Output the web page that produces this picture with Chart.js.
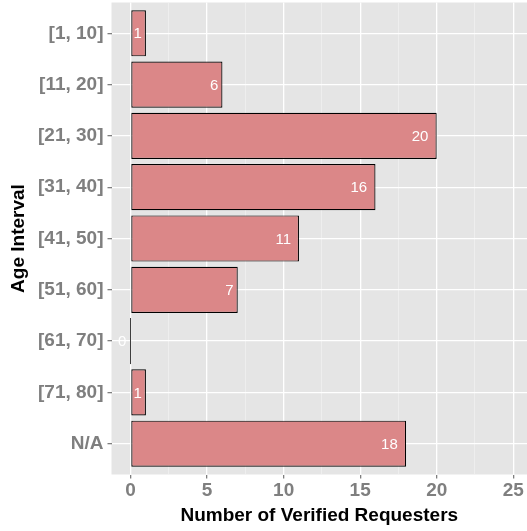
<!DOCTYPE html>
<html>
<head>
<meta charset="utf-8">
<script src="https://cdn.jsdelivr.net/npm/chart.js@4"></script>
<style>
  body { margin: 0; background: #fff; }
  #wrap { width: 527px; height: 531px; }
</style>
</head>
<body>
<div id="wrap"><canvas id="chart" width="527" height="531"></canvas></div>
<script>
const ageGroups = ["[1, 10]", "[11, 20]", "[21, 30]", "[31, 40]", "[41, 50]", "[51, 60]", "[61, 70]", "[71, 80]", "N/A"];
const requesters = [1, 6, 20, 16, 11, 7, 0, 1, 18];
const xTicks = [0, 2.5, 5, 7.5, 10, 12.5, 15, 17.5, 20, 22.5, 25];

const font = "'Liberation Sans', Arial, sans-serif";

// grey panel behind the plot, ggplot style
const panelBg = {
  id: "panelBg",
  beforeDraw(chart) {
    const { ctx, chartArea: a } = chart;
    ctx.save();
    ctx.fillStyle = "#E5E5E5";
    ctx.fillRect(a.left, a.top, a.right - a.left, a.bottom - a.top);
    ctx.restore();
  },
};

// white value labels inside the end of each bar
const barLabels = {
  id: "barLabels",
  afterDatasetsDraw(chart) {
    const { ctx } = chart;
    const meta = chart.getDatasetMeta(0);
    const xs = chart.scales.x;
    ctx.save();
    ctx.font = "15px " + font;
    ctx.fillStyle = "#fff";
    ctx.textAlign = "center";
    ctx.textBaseline = "middle";
    meta.data.forEach((bar, i) => {
      const txt = String(requesters[i]);
      const w = ctx.measureText(txt).width;
      const end = xs.getPixelForValue(requesters[i]);
      ctx.fillText(txt, end - w, bar.y + 1);
    });
    ctx.restore();
  },
};

new Chart(document.getElementById("chart"), {
  type: "bar",
  data: {
    datasets: [
      {
        data: requesters.map((v, i) => ({ x: v, y: i })),
        backgroundColor: "#DB8788",
        borderColor: "#000",
        borderWidth: 1.2,
        borderSkipped: false,
        barPercentage: 0.9,
        categoryPercentage: 1,
        minBarLength: 1,
      },
    ],
  },
  options: {
    indexAxis: "y",
    responsive: false,
    animation: false,
    layout: { padding: { left: 0, right: 0, top: 2.5, bottom: 0 } },
    plugins: { legend: { display: false }, tooltip: { enabled: false } },
    scales: {
      x: {
        type: "linear",
        min: -1.25,
        max: 25.9,
        afterBuildTicks(s) {
          s.ticks = xTicks.map((v) => ({ value: v }));
        },
        afterFit(s) {
          s.height = 56.5;
          s.paddingLeft = 0;
          s.paddingRight = 0;
        },
        border: { display: false },
        grid: {
          color: (c) => (c.tick && c.tick.value % 5 === 0 ? "#FFFFFF" : "#F2F2F2"),
          lineWidth: (c) => (c.tick && c.tick.value % 5 === 0 ? 1.3 : 0.7),
          tickColor: (c) => (c.tick && c.tick.value % 5 === 0 ? "#7F7F7F" : "rgba(0,0,0,0)"),
          tickLength: 4,
        },
        ticks: {
          autoSkip: false,
          maxRotation: 0,
          padding: 1,
          color: "#7F7F7F",
          font: { family: font, size: 19, weight: "bold" },
          callback: (v) => (v % 5 === 0 ? String(v) : ""),
        },
        title: {
          display: true,
          text: "Number of Verified Requesters",
          color: "#000",
          padding: { top: 0, bottom: 4 },
          font: { family: font, size: 19, weight: "bold" },
        },
      },
      y: {
        type: "linear",
        reverse: true,
        offset: false,
        min: -0.6,
        max: 8.6,
        afterBuildTicks(s) {
          s.ticks = ageGroups.map((_, i) => ({ value: i }));
        },
        afterFit(s) {
          s.width = 111.5;
          s.paddingTop = 0;
          s.paddingBottom = 0;
        },
        border: { display: false },
        grid: {
          offset: false,
          color: "#FFFFFF",
          lineWidth: 1.3,
          tickColor: "#7F7F7F",
          tickLength: 4,
        },
        ticks: {
          autoSkip: false,
          padding: 4,
          color: "#7F7F7F",
          font: { family: font, size: 19, weight: "bold" },
          callback: (v) => ageGroups[v],
        },
        title: {
          display: true,
          text: "Age Interval",
          color: "#000",
          padding: { top: 7, bottom: 0 },
          font: { family: font, size: 19, weight: "bold" },
        },
      },
    },
  },
  plugins: [panelBg, barLabels],
});
</script>
</body>
</html>
